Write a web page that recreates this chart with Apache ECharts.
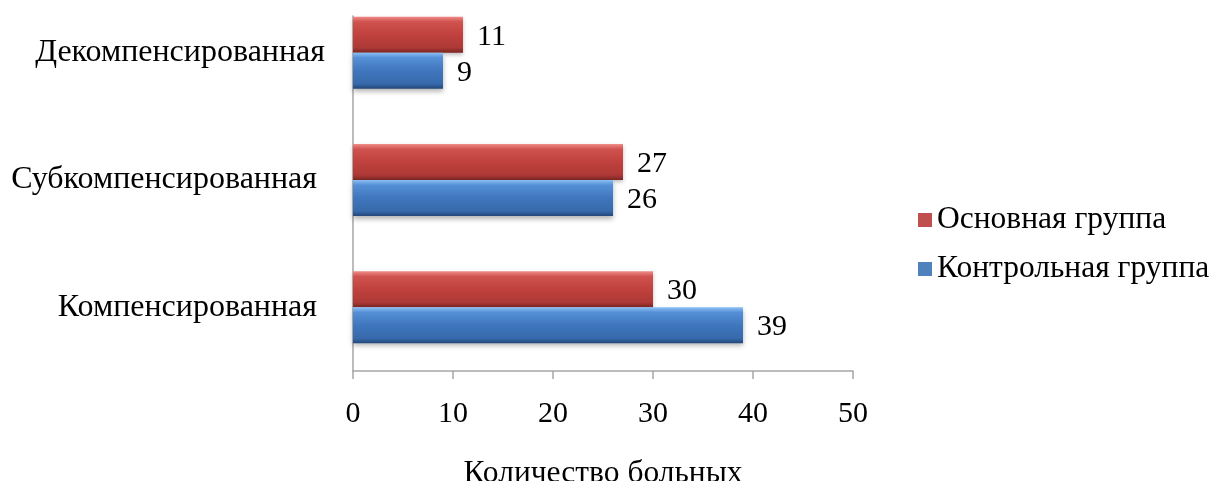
<!DOCTYPE html>
<html>
<head>
<meta charset="utf-8">
<script src="https://cdn.jsdelivr.net/npm/echarts@6/dist/echarts.min.js"></script>
<style>
  html, body { margin: 0; padding: 0; background: #fff; }
  #chart { width: 1216px; height: 481px; }
</style>
</head>
<body>
<div id="chart"></div>
<script>
// Categories listed bottom to top along the vertical axis
const categories = ['Компенсированная ', 'Субкомпенсированная ', 'Декомпенсированная'];
const mainGroup = [30, 27, 11];      // Основная группа
const controlGroup = [39, 26, 9];    // Контрольная группа
const xTicks = [0, 10, 20, 30, 40, 50];
const seriesNames = ['Основная группа', 'Контрольная группа'];
const axisTitle = 'Количество больных';

const FONT = '"Liberation Serif", "DejaVu Serif", serif';

function bevel(light, mid, base, dark, edge) {
  return new echarts.graphic.LinearGradient(0, 0, 0, 1, [
    { offset: 0, color: light },
    { offset: 0.14, color: mid },
    { offset: 0.5, color: base },
    { offset: 0.86, color: dark },
    { offset: 1, color: edge }
  ]);
}

const redFill = bevel('#f08c89', '#d0534f', '#c0413e', '#ad3936', '#7a2523');
const blueFill = bevel('#8cc0f5', '#5590d6', '#3f76bd', '#376aac', '#22477a');

const labelStyle = {
  show: true,
  position: 'right',
  distance: 14,
  offset: [0, 2],
  fontFamily: FONT,
  fontSize: 30,
  color: '#000'
};

const chart = echarts.init(document.getElementById('chart'));
chart.setOption({
  animation: false,
  backgroundColor: '#fff',
  grid: [
    { left: 353, right: 363, top: -11, bottom: 110, outerBoundsMode: 'none' },
    { left: 353, right: 363, top: 16, bottom: 110, outerBoundsMode: 'none' }
  ],
  legend: {
    data: [
      { name: seriesNames[0], itemStyle: { color: '#c0504d' } },
      { name: seriesNames[1], itemStyle: { color: '#4f81bd' } }
    ],
    orient: 'vertical',
    left: 913,
    top: 199,
    itemWidth: 14,
    itemHeight: 14,
    itemGap: 17,
    icon: 'rect',
    textStyle: { fontFamily: FONT, fontSize: 31.5, color: '#000' }
  },
  xAxis: [
    {
      gridIndex: 0,
      type: 'value',
      min: 0,
      max: 50,
      interval: 10,
      splitLine: { show: false },
      axisLine: { show: true, lineStyle: { color: '#a6a6a6', width: 1.5 } },
      axisTick: { show: true, length: 8, lineStyle: { color: '#a6a6a6', width: 1.5 } },
      axisLabel: {
        margin: 28,
        fontFamily: FONT,
        fontSize: 30,
        color: '#000',
        formatter: v => (xTicks.includes(v) ? String(v) : '')
      },
      name: axisTitle,
      nameLocation: 'middle',
      nameGap: 87,
      nameTextStyle: { fontFamily: FONT, fontSize: 31.5, color: '#000' }
    },
    { gridIndex: 1, type: 'value', show: false, min: 0, max: 50 }
  ],
  yAxis: [
    {
      gridIndex: 0,
      type: 'category',
      data: categories,
      axisLine: { show: false },
      axisTick: { show: false },
      axisLabel: { margin: 28, fontFamily: FONT, fontSize: 32, color: '#000' }
    },
    {
      gridIndex: 1,
      type: 'category',
      data: categories,
      axisLine: { show: true, lineStyle: { color: '#a6a6a6', width: 1.5 } },
      axisTick: { show: false },
      axisLabel: { show: false }
    }
  ],
  series: [
    {
      name: seriesNames[0],
      type: 'bar',
      xAxisIndex: 0,
      yAxisIndex: 0,
      data: mainGroup,
      barWidth: 36,
      barGap: '0%',
      itemStyle: {
        color: redFill,
        shadowColor: 'rgba(0,0,0,0.25)',
        shadowBlur: 4,
        shadowOffsetY: 2
      },
      label: labelStyle
    },
    {
      name: seriesNames[1],
      type: 'bar',
      xAxisIndex: 0,
      yAxisIndex: 0,
      data: controlGroup,
      barWidth: 36,
      barGap: '0%',
      itemStyle: {
        color: blueFill,
        shadowColor: 'rgba(0,0,0,0.3)',
        shadowBlur: 5,
        shadowOffsetY: 3
      },
      label: labelStyle
    }
  ]
});
</script>
</body>
</html>
